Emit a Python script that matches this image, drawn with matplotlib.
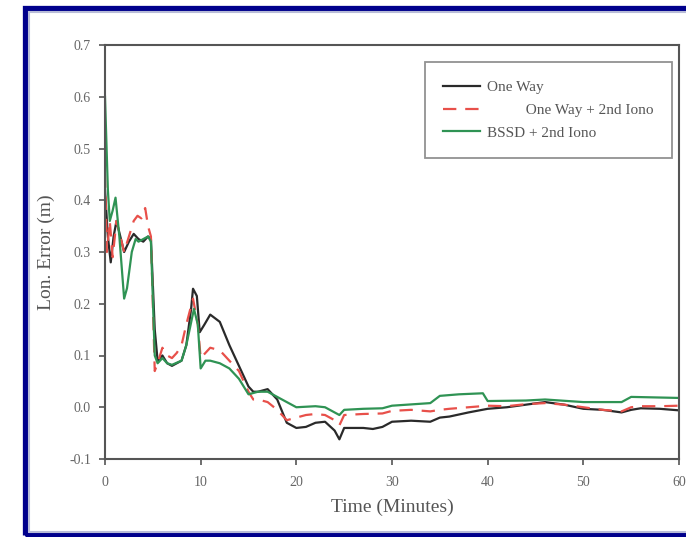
import numpy as np
import matplotlib
matplotlib.use('Agg')
import matplotlib.pyplot as plt
from matplotlib.patches import Rectangle

# values
t_one = [0, 0.3, 0.6, 0.9, 1.2, 1.6, 2.0, 2.5, 3.0, 3.5, 4.0, 4.5, 4.8, 5.2, 5.5, 6.0, 6.5, 7.0,
         8.0, 8.5, 9.0, 9.2, 9.6, 9.9, 10.4, 11.0, 12.0, 13.0, 14.0, 15.0, 15.5, 16.0, 17.0, 18.0,
         19.0, 20.0, 21.0, 22.0, 23.0, 24.0, 24.5, 25.0, 26.0, 27.0, 28.0, 29.0, 30.0, 32.0, 34.0,
         35.0, 36.0, 38.0, 40.0, 42.0, 44.0, 46.0, 48.0, 50.0, 52.0, 54.0, 55.0, 56.0, 58.0, 60.0]
v_one = [0.42, 0.33, 0.28, 0.33, 0.36, 0.33, 0.30, 0.32, 0.335, 0.325, 0.32, 0.33, 0.325, 0.15,
         0.09, 0.10, 0.085, 0.08, 0.09, 0.12, 0.19, 0.229, 0.215, 0.145, 0.16, 0.179, 0.165, 0.12,
         0.08, 0.04, 0.03, 0.03, 0.035, 0.015, -0.03, -0.04, -0.038, -0.03, -0.028, -0.045, -0.062,
         -0.04, -0.04, -0.04, -0.042, -0.038, -0.028, -0.026, -0.028, -0.02, -0.018, -0.01, -0.003,
         0.0, 0.005, 0.01, 0.005, -0.003, -0.005, -0.01, -0.005, -0.002, -0.003, -0.006]

t_iono = [0, 0.2, 0.5, 0.8, 1.2, 1.6, 2.0, 2.5, 3.0, 3.4, 3.8, 4.2, 4.5, 4.8, 5.2, 5.5, 6.0, 6.5,
          7.0, 7.5, 8.0, 8.5, 9.2, 9.7, 10.0, 10.5, 11.0, 12.0, 13.0, 14.0, 15.0, 15.5, 16.0, 17.0,
          18.0, 19.0, 20.0, 21.0, 22.0, 23.0, 24.0, 24.5, 25.0, 27.0, 29.0, 30.0, 32.0, 34.0, 35.0,
          36.0, 38.0, 40.0, 42.0, 44.0, 46.0, 48.0, 50.0, 52.0, 54.0, 55.0, 56.0, 58.0, 60.0]
v_iono = [0.45, 0.30, 0.36, 0.29, 0.36, 0.33, 0.30, 0.33, 0.36, 0.37, 0.365, 0.385, 0.35, 0.33,
          0.07, 0.085, 0.115, 0.10, 0.095, 0.105, 0.12, 0.16, 0.21, 0.16, 0.095, 0.105, 0.115, 0.11,
          0.09, 0.07, 0.03, 0.015, 0.015, 0.01, -0.005, -0.025, -0.02, -0.015, -0.013, -0.015,
          -0.025, -0.035, -0.015, -0.013, -0.012, -0.007, -0.005, -0.008, -0.005, -0.003, 0.0,
          0.003, 0.002, 0.006, 0.008, 0.005, 0.0, -0.005, -0.008, 0.0, 0.002, 0.002, 0.003]

t_bssd = [0, 0.3, 0.5, 0.8, 1.1, 1.5, 2.0, 2.3, 2.8, 3.2, 3.5, 4.0, 4.5, 4.8, 5.2, 5.5, 6.0, 6.5,
          7.0, 8.0, 8.5, 9.3, 9.7, 10.0, 10.5, 11.0, 12.0, 13.0, 14.0, 15.0, 16.0, 17.0, 18.0,
          19.0, 20.0, 22.0, 23.0, 24.5, 25.0, 27.0, 29.0, 30.0, 34.0, 35.0, 37.0, 39.5, 40.0,
          44.0, 46.0, 50.0, 54.0, 55.0, 60.0]
v_bssd = [0.60, 0.42, 0.36, 0.38, 0.405, 0.33, 0.21, 0.23, 0.30, 0.325, 0.32, 0.325, 0.33, 0.32,
          0.10, 0.085, 0.095, 0.085, 0.082, 0.09, 0.12, 0.19, 0.16, 0.075, 0.09, 0.09, 0.085,
          0.075, 0.055, 0.025, 0.03, 0.03, 0.02, 0.01, 0.0, 0.002, 0.0, -0.015, -0.005, -0.003,
          -0.002, 0.003, 0.008, 0.022, 0.025, 0.027, 0.012, 0.013, 0.015, 0.01, 0.01, 0.02, 0.018]

x_ticks = [0, 10, 20, 30, 40, 50, 60]
y_ticks = [-0.1, 0.0, 0.1, 0.2, 0.3, 0.4, 0.5, 0.6, 0.7]

plt.rcParams['font.family'] = ['Liberation Serif', 'DejaVu Serif']

W, H = 686, 537
fig = plt.figure(figsize=(W / 100, H / 100), dpi=100)

# blue frame around the picture
def px_rect(x0, y0, x1, y1, color, lw):
	r = Rectangle((x0 / W, 1 - y1 / H), (x1 - x0) / W, (y1 - y0) / H, transform=fig.transFigure,
	              fill=False, edgecolor=color, linewidth=lw)
	fig.add_artist(r)

px_rect(24.5, 7.5, 720, 535, '#00008c', 3.8)
px_rect(29, 12, 720, 531.5, '#b8bcd8', 1.5)

ax = fig.add_axes([105 / W, 1 - 459 / H, 574 / W, 414 / H])
ax.plot(t_one, v_one, color='#2a2a2a', lw=1.6, label='One Way')
ax.plot(t_iono, v_iono, color='#e8504a', lw=1.6, ls=(0, (6, 4)),
        label='          One Way + 2nd Iono')
ax.plot(t_bssd, v_bssd, color='#2f9354', lw=1.6, label='BSSD + 2nd Iono')

ax.set_xlim(0, 60)
ax.set_ylim(-0.1, 0.7)
ax.set_xticks(x_ticks)
ax.set_yticks(y_ticks)
ax.set_yticklabels(['%.1f' % v for v in y_ticks])
ax.tick_params(direction='out', length=4, width=1.2, color='#555555', labelcolor='#666666',
               labelsize=10, top=False, right=False)
ax.tick_params(axis='x', pad=8)
ax.tick_params(axis='y', pad=6)
for s in ax.spines.values():
	s.set_color('#555555')
	s.set_linewidth(1.5)

ax.set_xlabel('Time (Minutes)', fontsize=14, color='#555555', labelpad=7)
ax.set_ylabel('Lon. Error (m)', fontsize=14, color='#555555', labelpad=10)

leg = ax.legend(loc='upper right', bbox_to_anchor=(0.988, 0.959), borderaxespad=0,
                fontsize=11, frameon=True, fancybox=False, handlelength=2.4,
                handletextpad=0.5, labelspacing=0.6, borderpad=1.2)
leg.get_frame().set_edgecolor('#777777')
leg.get_frame().set_linewidth(1.3)
for txt in leg.get_texts():
	txt.set_color('#555555')

fig.savefig('out.png', dpi=100)
